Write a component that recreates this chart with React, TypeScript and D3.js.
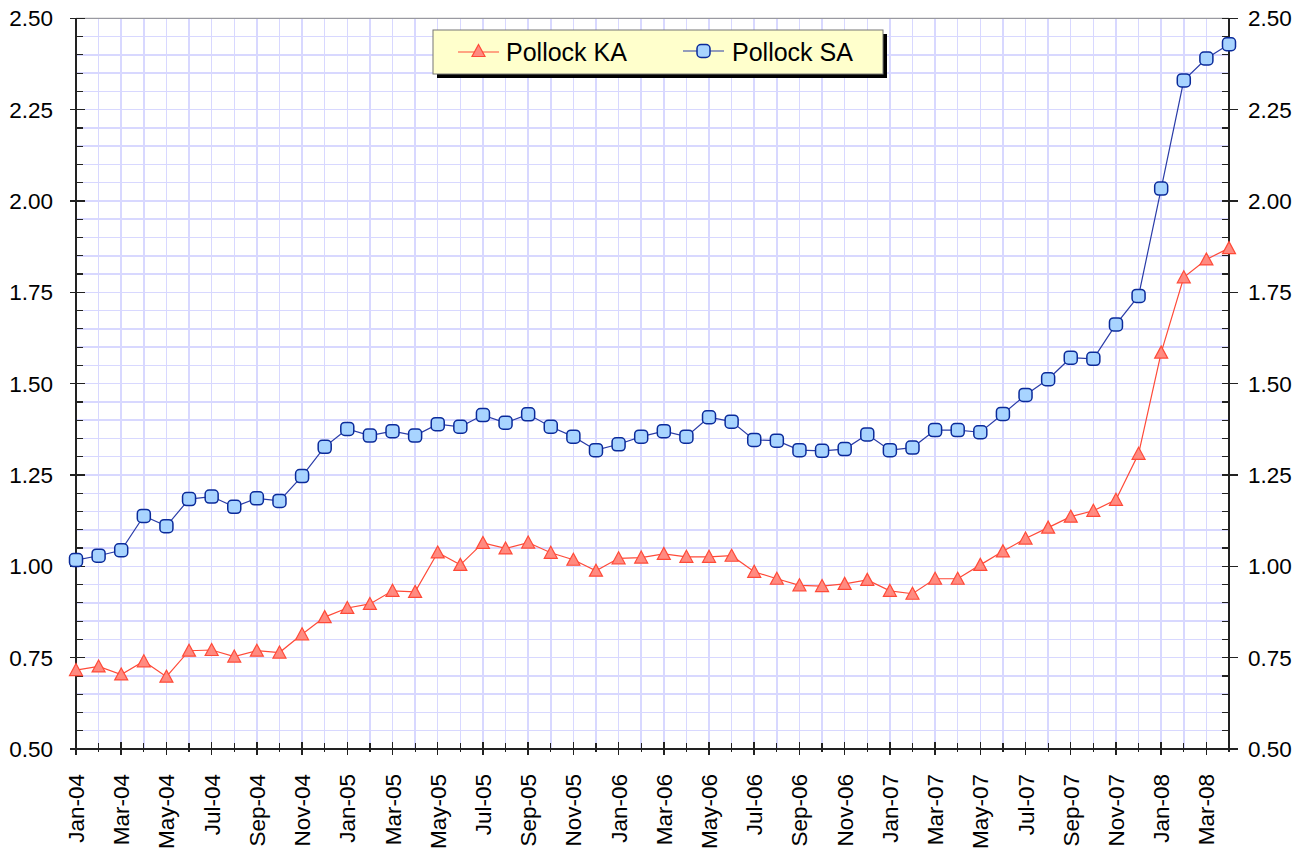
import { useEffect, useRef } from 'react';
import * as d3 from 'd3';

const months = [
  'Jan-04', 'Feb-04', 'Mar-04', 'Apr-04', 'May-04', 'Jun-04', 'Jul-04', 'Aug-04', 'Sep-04', 'Oct-04', 'Nov-04', 'Dec-04',
  'Jan-05', 'Feb-05', 'Mar-05', 'Apr-05', 'May-05', 'Jun-05', 'Jul-05', 'Aug-05', 'Sep-05', 'Oct-05', 'Nov-05', 'Dec-05',
  'Jan-06', 'Feb-06', 'Mar-06', 'Apr-06', 'May-06', 'Jun-06', 'Jul-06', 'Aug-06', 'Sep-06', 'Oct-06', 'Nov-06', 'Dec-06',
  'Jan-07', 'Feb-07', 'Mar-07', 'Apr-07', 'May-07', 'Jun-07', 'Jul-07', 'Aug-07', 'Sep-07', 'Oct-07', 'Nov-07', 'Dec-07',
  'Jan-08', 'Feb-08', 'Mar-08', 'Apr-08',
];

const pollockKA = [
  0.716, 0.726, 0.704, 0.740, 0.698, 0.769, 0.771, 0.753, 0.769, 0.764, 0.814, 0.861,
  0.886, 0.897, 0.933, 0.930, 1.038, 1.004, 1.064, 1.049, 1.065, 1.037, 1.018, 0.988,
  1.022, 1.024, 1.034, 1.026, 1.026, 1.029, 0.985, 0.966, 0.948, 0.946, 0.952, 0.963,
  0.933, 0.925, 0.966, 0.966, 1.004, 1.041, 1.076, 1.106, 1.136, 1.152, 1.182, 1.308,
  1.585, 1.791, 1.840, 1.871,
];

const pollockSA = [
  1.017, 1.029, 1.044, 1.138, 1.110, 1.184, 1.191, 1.163, 1.186, 1.179, 1.247, 1.327,
  1.376, 1.358, 1.370, 1.358, 1.389, 1.382, 1.414, 1.393, 1.416, 1.382, 1.355, 1.318,
  1.334, 1.355, 1.370, 1.355, 1.408, 1.396, 1.346, 1.344, 1.318, 1.316, 1.321, 1.361,
  1.318, 1.325, 1.373, 1.373, 1.367, 1.417, 1.469, 1.512, 1.571, 1.568, 1.662, 1.740,
  2.034, 2.330, 2.390, 2.429,
];

const yTicks = [0.5, 0.75, 1.0, 1.25, 1.5, 1.75, 2.0, 2.25, 2.5];
const yMinorStep = 0.05;

const seriesNames = ['Pollock KA', 'Pollock SA'];

const W = 1307;
const H = 849;
const left = 76;
const right = 1229;
const top = 18.3;
const bottom = 749;

const FONT = 'Arial, "Liberation Sans", sans-serif';
const KA_LINE = '#ff4a38';
const KA_FILL = '#ff8a80';
const SA_LINE = '#2a3ca8';
const SA_FILL = '#a8d4ff';
const SA_STROKE = '#0a2a9a';
const GRID = '#d8d8ff';

export default function App() {
  const svgRef = useRef<SVGSVGElement>(null);

  useEffect(() => {
    if (!svgRef.current) return;
    const svg = d3.select(svgRef.current);
    svg.selectAll('*').remove();

    const x = d3.scalePoint<string>().domain(months).range([left, right]);
    const y = d3.scaleLinear().domain([0.5, 2.5]).range([bottom, top]);

    svg.append('rect').attr('width', W).attr('height', H).attr('fill', '#ffffff');

    // grid
    const minor = d3.range(0.5, 2.5001, yMinorStep);
    const grid = svg.append('g').attr('shape-rendering', 'crispEdges');
    grid.selectAll('line.h')
      .data(minor)
      .join('line')
      .attr('x1', left).attr('x2', right)
      .attr('y1', d => y(d)).attr('y2', d => y(d))
      .attr('stroke', GRID).attr('stroke-width', 1.5);
    grid.selectAll('line.v')
      .data(months)
      .join('line')
      .attr('x1', d => x(d)!).attr('x2', d => x(d)!)
      .attr('y1', top).attr('y2', bottom)
      .attr('stroke', GRID).attr('stroke-width', 1.5);

    svg.append('line')
      .attr('x1', left).attr('x2', right).attr('y1', top).attr('y2', top)
      .attr('stroke', '#8a8a8a').attr('stroke-width', 1);

    // axes
    const axes = svg.append('g').attr('stroke', '#222').attr('shape-rendering', 'crispEdges');
    axes.append('line').attr('x1', left).attr('x2', left).attr('y1', top).attr('y2', bottom).attr('stroke-width', 2);
    axes.append('line').attr('x1', right).attr('x2', right).attr('y1', top).attr('y2', bottom).attr('stroke-width', 2);
    axes.append('line').attr('x1', left - 6).attr('x2', right + 8).attr('y1', bottom).attr('y2', bottom).attr('stroke-width', 1.5);

    const isMajorY = (v: number) => yTicks.some(t => Math.abs(t - v) < 1e-6);
    minor.forEach(v => {
      const yy = y(v);
      if (isMajorY(v)) {
        axes.append('line').attr('x1', left - 6).attr('x2', left + 9).attr('y1', yy).attr('y2', yy).attr('stroke-width', 1.5);
        axes.append('line').attr('x1', right - 7).attr('x2', right + 9).attr('y1', yy).attr('y2', yy).attr('stroke-width', 1.5);
      } else {
        axes.append('line').attr('x1', left).attr('x2', left + 7).attr('y1', yy).attr('y2', yy).attr('stroke-width', 1.2);
        axes.append('line').attr('x1', right - 7).attr('x2', right).attr('y1', yy).attr('y2', yy).attr('stroke-width', 1.2);
      }
    });

    months.forEach((m, i) => {
      const xx = x(m)!;
      if (i % 2 === 0) {
        axes.append('line').attr('x1', xx).attr('x2', xx).attr('y1', bottom - 7).attr('y2', bottom + 6).attr('stroke-width', 1.5);
      } else {
        axes.append('line').attr('x1', xx).attr('x2', xx).attr('y1', bottom - 6).attr('y2', bottom + 3).attr('stroke-width', 1.2);
      }
    });

    // tick labels
    const labels = svg.append('g').attr('font-family', FONT).attr('font-size', 22.5).attr('fill', '#000');
    yTicks.forEach(t => {
      labels.append('text').attr('x', 53).attr('y', y(t) + 8).attr('text-anchor', 'end').text(t.toFixed(2));
      labels.append('text').attr('x', 1248).attr('y', y(t) + 8).attr('text-anchor', 'start').text(t.toFixed(2));
    });
    months.forEach((m, i) => {
      if (i % 2 !== 0) return;
      labels.append('text')
        .attr('transform', `translate(${x(m)! + 8},774) rotate(-90)`)
        .attr('text-anchor', 'end')
        .text(m);
    });

    // series
    const line = d3.line<number>()
      .x((_, i) => x(months[i])!)
      .y(d => y(d));

    svg.append('path').datum(pollockKA)
      .attr('d', line).attr('fill', 'none').attr('stroke', KA_LINE).attr('stroke-width', 1.2);
    svg.append('path').datum(pollockSA)
      .attr('d', line).attr('fill', 'none').attr('stroke', SA_LINE).attr('stroke-width', 1.2);

    const tri = (cx: number, cy: number) => `M${cx},${cy - 6.5}L${cx + 6.5},${cy + 5.5}L${cx - 6.5},${cy + 5.5}Z`;

    svg.append('g').selectAll('path')
      .data(pollockKA)
      .join('path')
      .attr('d', (d, i) => tri(x(months[i])!, y(d)))
      .attr('fill', KA_FILL).attr('stroke', KA_LINE).attr('stroke-width', 1.2);

    svg.append('g').selectAll('rect')
      .data(pollockSA)
      .join('rect')
      .attr('x', (d, i) => x(months[i])! - 6.5)
      .attr('y', d => y(d) - 6.5)
      .attr('width', 13).attr('height', 13)
      .attr('rx', 4).attr('ry', 4)
      .attr('fill', SA_FILL).attr('stroke', SA_STROKE).attr('stroke-width', 1.5);

    // legend
    const lg = svg.append('g').attr('font-family', FONT).attr('font-size', 25);
    lg.append('rect').attr('x', 437).attr('y', 34).attr('width', 450).attr('height', 44).attr('fill', '#000');
    lg.append('rect').attr('x', 433).attr('y', 30).attr('width', 450).attr('height', 44)
      .attr('fill', '#ffffcc').attr('stroke', '#777').attr('stroke-width', 1);

    lg.append('line').attr('x1', 458).attr('x2', 499).attr('y1', 52).attr('y2', 52).attr('stroke', KA_LINE).attr('stroke-width', 1.2);
    lg.append('path').attr('d', tri(478.5, 51)).attr('fill', KA_FILL).attr('stroke', KA_LINE).attr('stroke-width', 1.2);
    lg.append('text').attr('x', 506).attr('y', 61).text(seriesNames[0]);

    lg.append('line').attr('x1', 683).attr('x2', 724).attr('y1', 51).attr('y2', 51).attr('stroke', SA_LINE).attr('stroke-width', 1.2);
    lg.append('rect').attr('x', 697).attr('y', 44.5).attr('width', 13).attr('height', 13).attr('rx', 4).attr('ry', 4)
      .attr('fill', SA_FILL).attr('stroke', SA_STROKE).attr('stroke-width', 1.5);
    lg.append('text').attr('x', 732).attr('y', 61).text(seriesNames[1]);
  }, []);

  return (
    <div style={{ position: 'absolute', left: 0, top: 0 }}>
      <svg ref={svgRef} width={W} height={H} style={{ display: 'block' }} />
    </div>
  );
}
